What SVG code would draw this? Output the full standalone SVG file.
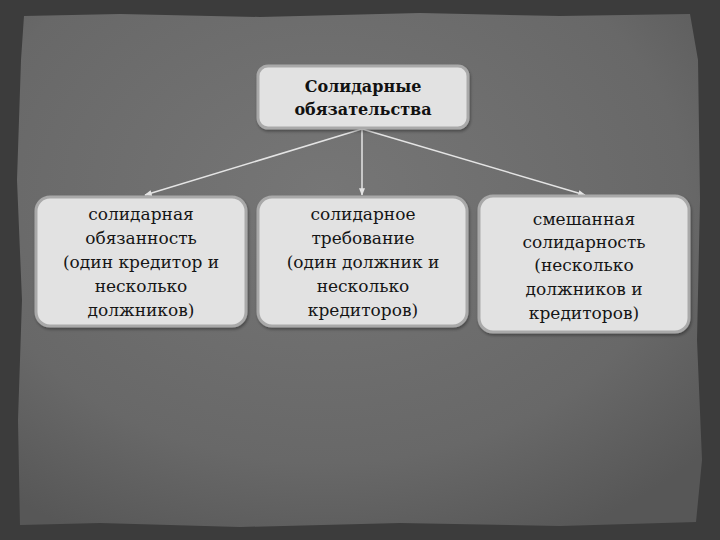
<svg xmlns="http://www.w3.org/2000/svg" width="720" height="540" viewBox="0 0 720 540">
<defs>
<radialGradient id="pg" cx="0.45" cy="0.35" r="0.75">
<stop offset="0" stop-color="#767676"/>
<stop offset="0.7" stop-color="#686868"/>
<stop offset="1" stop-color="#575757"/>
</radialGradient>
<marker id="ah" viewBox="0 0 10 10" refX="9" refY="5" markerWidth="5" markerHeight="5" orient="auto">
<path d="M0,1 L10,5 L0,9 z" fill="#e4e4e4"/>
</marker>
<filter id="sh" x="-10%" y="-10%" width="120%" height="130%">
<feDropShadow dx="1" dy="2" stdDeviation="1.5" flood-color="#000" flood-opacity="0.35"/>
</filter>
</defs>
<style>
.box{fill:#e2e2e2;stroke:#a9a9a9;stroke-width:3;filter:url(#sh)}
.t{font-family:"DejaVu Serif","Liberation Serif",serif;font-size:17px;fill:#151515;text-anchor:middle}
.tb{font-family:"DejaVu Serif","Liberation Serif",serif;font-size:16px;font-weight:bold;fill:#111;text-anchor:middle}
.c{stroke:#e4e4e4;stroke-width:1.5;fill:none;marker-end:url(#ah)}
</style>
<rect x="0" y="0" width="720" height="540" fill="#3c3c3c"/>
<path d="M24,16 L120,14 L260,17 L420,13 L560,16 L690,14 L698,60 L700,200 L697,340 L702,460 L696,522 L560,526 L400,523 L240,527 L100,523 L20,525 L18,420 L22,300 L17,180 L21,60 Z" fill="url(#pg)"/>
<g id="connectors">
<line class="c" x1="362" y1="129" x2="145" y2="195"/>
<line class="c" x1="362" y1="129" x2="362" y2="195"/>
<line class="c" x1="362" y1="129" x2="585" y2="195"/>
</g>
<g id="n0">
<rect class="box" x="258" y="66" width="210" height="62" rx="10"/>
<text class="tb" x="363" y="92">Солидарные</text>
<text class="tb" x="363" y="115">обязательства</text>
</g>
<g id="n1">
<rect class="box" x="36" y="197" width="210" height="129" rx="14"/>
<text class="t" x="141" y="220">солидарная</text>
<text class="t" x="141" y="244">обязанность</text>
<text class="t" x="141" y="268">(один кредитор и</text>
<text class="t" x="141" y="292">несколько</text>
<text class="t" x="141" y="316">должников)</text>
</g>
<g id="n2">
<rect class="box" x="258" y="197" width="209" height="129" rx="14"/>
<text class="t" x="363" y="220">солидарное</text>
<text class="t" x="363" y="244">требование</text>
<text class="t" x="363" y="268">(один должник и</text>
<text class="t" x="363" y="292">несколько</text>
<text class="t" x="363" y="316">кредиторов)</text>
</g>
<g id="n3">
<rect class="box" x="479" y="196" width="210" height="136" rx="14"/>
<text class="t" x="584" y="225">смешанная</text>
<text class="t" x="584" y="248">солидарность</text>
<text class="t" x="584" y="271">(несколько</text>
<text class="t" x="584" y="295">должников и</text>
<text class="t" x="584" y="319">кредиторов)</text>
</g>
</svg>
